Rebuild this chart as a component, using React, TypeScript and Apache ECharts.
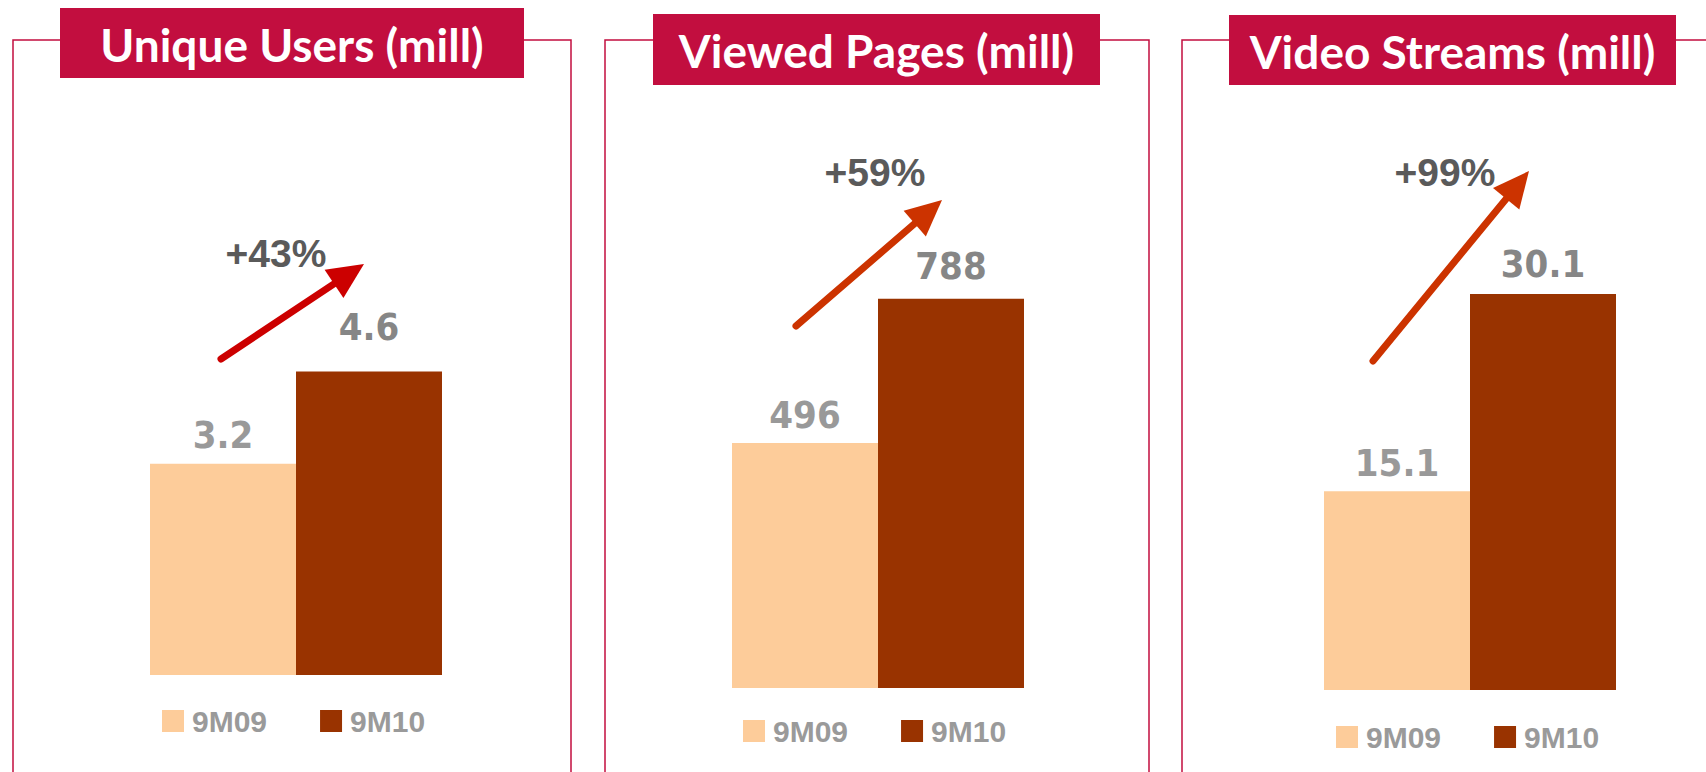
import React, { useEffect, useRef } from "react";
import * as echarts from "echarts";

const panelTitles = ["Unique Users (mill)", "Viewed Pages (mill)", "Video Streams (mill)"];
const categories = [""];
const seriesNames = ["9M09", "9M10"];
const values9M09 = [3.2, 496, 15.1];
const values9M10 = [4.6, 788, 30.1];
const growthLabels = ["+43%", "+59%", "+99%"];
const axisMax = [10, 1300, 50];

const TITLE_FONT = "Lato, 'Open Sans', sans-serif";
const TEXT_FONT = "'Liberation Sans', Arial, sans-serif";
const LABEL_FONT = "'DejaVu Sans Condensed', 'DejaVu Sans', sans-serif";
const LIGHT = "#fdcc9a";
const DARK = "#993300";
const CRIMSON = "#c20e3f";

// layout per panel (pixels)
const layout = [
  { frameX: 13, frameW: 558, titleX: 60, titleY: 8, titleW: 464, titleH: 70, boundary: 296, bottom: 675, scale: 66, legendX: 162, legendY: 706, labelDist: [10, 25], growth: [276, 253], arrow: [221, 359, 364, 264], arrowColor: "#cc0000" },
  { frameX: 605, frameW: 544, titleX: 653, titleY: 14, titleW: 447, titleH: 71, boundary: 878, bottom: 688, scale: 0.494, legendX: 743, legendY: 716, labelDist: [9, 14], growth: [875, 172], arrow: [796, 326, 942, 200], arrowColor: "#cc3300" },
  { frameX: 1182, frameW: 600, titleX: 1229, titleY: 15, titleW: 447, titleH: 70, boundary: 1470, bottom: 690, scale: 13.16, legendX: 1336, legendY: 722, labelDist: [9, 11], growth: [1445, 172], arrow: [1373, 361, 1529, 171], arrowColor: "#cc3300" },
];

function arrowGraphic(x1: number, y1: number, x2: number, y2: number, color: string) {
  const dx = x2 - x1;
  const dy = y2 - y1;
  const len = Math.sqrt(dx * dx + dy * dy);
  const ux = dx / len;
  const uy = dy / len;
  const headLen = 36;
  const headHalf = 17;
  const bx = x2 - ux * headLen;
  const by = y2 - uy * headLen;
  const px = -uy;
  const py = ux;
  return [
    {
      type: "line",
      shape: { x1, y1, x2: bx + ux * 4, y2: by + uy * 4 },
      style: { stroke: color, lineWidth: 7, lineCap: "round" },
      z: 10,
    },
    {
      type: "polygon",
      shape: {
        points: [
          [x2, y2],
          [bx + px * headHalf, by + py * headHalf],
          [bx - px * headHalf, by - py * headHalf],
        ],
      },
      style: { fill: color },
      z: 10,
    },
  ];
}

export default function App() {
  const ref = useRef<HTMLDivElement>(null);

  useEffect(() => {
    if (!ref.current) return;
    const chart = echarts.init(ref.current, undefined, { renderer: "svg" });

    const grids: any[] = [];
    const xAxes: any[] = [];
    const yAxes: any[] = [];
    const series: any[] = [];
    const legends: any[] = [];
    const graphics: any[] = [];

    layout.forEach((p, i) => {
      const height = axisMax[i] * p.scale;
      grids.push({ left: p.boundary - 200, width: 400, top: p.bottom - height, height });
      xAxes.push({ type: "category", gridIndex: i, data: categories, show: false });
      yAxes.push({ type: "value", gridIndex: i, min: 0, max: axisMax[i], show: false, splitLine: { show: false } });
      const vals = [values9M09[i], values9M10[i]];
      seriesNames.forEach((name, k) => {
        series.push({
          type: "bar",
          name,
          xAxisIndex: i,
          yAxisIndex: i,
          data: [vals[k]],
          barWidth: 146,
          barGap: "0%",
          itemStyle: { color: k === 0 ? LIGHT : DARK },
          label: {
            show: true,
            position: "top",
            distance: p.labelDist[k],
            color: k === 0 ? "#999999" : "#868686",
            fontFamily: LABEL_FONT,
            fontWeight: "bold",
            fontSize: 38,
          },
        });
      });
      legends.push({
        data: seriesNames,
        left: p.legendX,
        top: p.legendY,
        padding: 0,
        itemWidth: 22,
        itemHeight: 22,
        itemGap: 53,
        icon: "rect",
        selectedMode: false,
        textStyle: { color: "#9a9a9a", fontFamily: TEXT_FONT, fontWeight: "bold", fontSize: 30, lineHeight: 22, padding: [0, 0, 0, 3] },
      });

      graphics.push({
        type: "rect",
        shape: { x: p.frameX, y: 40, width: p.frameW, height: 800 },
        style: { fill: "none", stroke: CRIMSON, lineWidth: 1.5 },
        z: 1,
      });
      graphics.push({
        type: "rect",
        shape: { x: p.titleX, y: p.titleY, width: p.titleW, height: p.titleH },
        style: { fill: CRIMSON },
        z: 2,
      });
      graphics.push({
        type: "text",
        x: p.titleX + p.titleW / 2,
        y: p.titleY + p.titleH / 2 + 1,
        style: {
          text: panelTitles[i],
          fill: "#ffffff",
          font: `bold 46px ${TITLE_FONT}`,
          textAlign: "center",
          textVerticalAlign: "middle",
        },
        z: 3,
      });
      graphics.push({
        type: "text",
        x: p.growth[0],
        y: p.growth[1],
        style: {
          text: growthLabels[i],
          fill: "#5a5a5a",
          font: `bold 39px ${TEXT_FONT}`,
          textAlign: "center",
          textVerticalAlign: "middle",
        },
        z: 11,
      });
      graphics.push(...arrowGraphic(p.arrow[0], p.arrow[1], p.arrow[2], p.arrow[3], p.arrowColor));
    });

    chart.setOption({
      animation: false,
      backgroundColor: "#ffffff",
      grid: grids,
      xAxis: xAxes,
      yAxis: yAxes,
      series,
      legend: legends,
      graphic: { elements: graphics },
    });

    return () => chart.dispose();
  }, []);

  return (
    <div
      ref={ref}
      style={{ position: "fixed", left: 0, top: 0, width: 1706, height: 772, background: "#fff" }}
    />
  );
}
